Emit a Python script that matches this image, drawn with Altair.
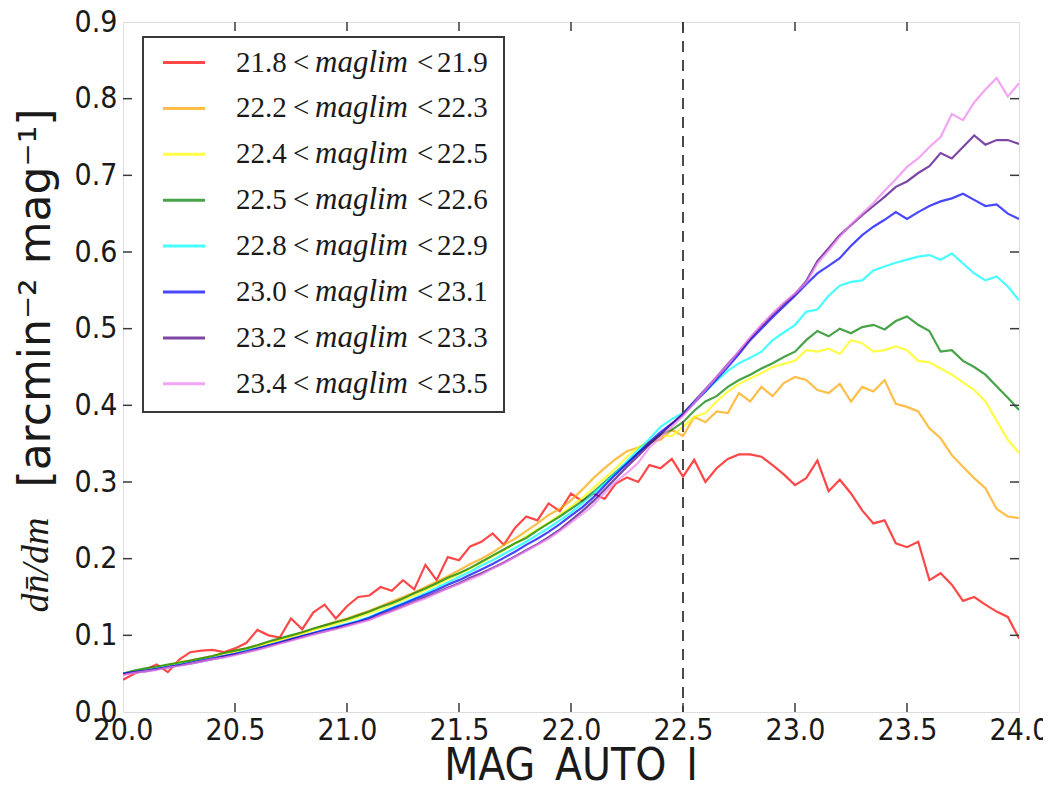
import altair as alt
import pandas as pd

# ---------------- data ----------------
MAG = [round(20.0 + 0.05 * i, 2) for i in range(81)]  # sampling grid 20.00 .. 24.00

LABELS_LO = ["21.8", "22.2", "22.4", "22.5", "22.8", "23.0", "23.2", "23.4"]
LABELS_HI = ["21.9", "22.3", "22.5", "22.6", "22.9", "23.1", "23.3", "23.5"]
COLORS = ["#ff0000", "#ffa500", "#ffff00", "#008000", "#00ffff", "#0000ff", "#4b0082", "#ee82ee"]

RED = [.042, .050, .055, .062, .052, .068, .078, .080, .081, .078,
       .083, .090, .107, .100, .097, .122, .108, .130, .140, .122,
       .138, .150, .152, .163, .158, .172, .160, .192, .172, .202,
       .198, .216, .222, .233, .218, .240, .255, .250, .272, .262,
       .285, .275, .285, .278, .298, .306, .300, .322, .318, .330,
       .307, .329, .300, .318, .330, .336, .336, .333, .322, .310,
       .296, .305, .328, .288, .303, .285, .263, .246, .250, .220,
       .215, .222, .172, .181, .166, .145, .150, .140, .131, .124, .096]

ORANGE = [.050, .053, .055, .058, .061, .065, .067, .070, .073, .077,
          .080, .083, .087, .091, .095, .099, .104, .108, .113, .118,
          .122, .127, .132, .138, .144, .150, .156, .163, .170, .177,
          .185, .193, .200, .208, .218, .226, .236, .246, .257, .265,
          .276, .290, .305, .318, .330, .340, .345, .352, .355, .368,
          .360, .385, .378, .392, .390, .416, .405, .424, .412, .429,
          .437, .433, .420, .416, .428, .405, .424, .418, .433, .402,
          .398, .392, .370, .357, .335, .320, .305, .292, .265, .255, .253]

YELLOW = [.050, .053, .056, .058, .061, .064, .066, .069, .072, .076,
          .079, .082, .086, .090, .094, .098, .102, .107, .111, .115,
          .119, .124, .129, .134, .140, .146, .152, .159, .166, .173,
          .180, .187, .195, .203, .211, .220, .229, .238, .247, .257,
          .268, .279, .292, .305, .318, .333, .345, .352, .360, .360,
          .372, .385, .390, .405, .418, .428, .435, .442, .450, .454,
          .458, .472, .470, .474, .467, .485, .481, .470, .472, .477,
          .472, .458, .456, .448, .440, .430, .420, .405, .380, .355, .338]

GREEN = [.050, .054, .057, .059, .062, .064, .067, .070, .073, .077,
         .080, .083, .087, .092, .096, .100, .104, .109, .113, .117,
         .121, .126, .131, .137, .142, .148, .155, .161, .168, .175,
         .181, .188, .196, .204, .212, .220, .227, .237, .246, .255,
         .265, .275, .287, .300, .313, .325, .338, .350, .362, .368,
         .378, .393, .405, .412, .424, .433, .440, .448, .455, .463,
         .470, .485, .497, .490, .500, .494, .502, .505, .499, .510,
         .516, .505, .497, .470, .472, .458, .450, .440, .425, .410, .394]

CYAN = [.050, .052, .054, .057, .059, .062, .064, .067, .070, .073,
        .076, .080, .083, .087, .091, .095, .099, .103, .107, .111,
        .115, .119, .124, .130, .136, .142, .148, .155, .162, .169,
        .176, .183, .191, .198, .206, .214, .222, .231, .240, .250,
        .260, .272, .285, .298, .312, .327, .342, .356, .372, .382,
        .390, .405, .418, .432, .445, .455, .462, .470, .485, .495,
        .505, .522, .525, .543, .556, .561, .563, .576, .581, .586,
        .590, .594, .596, .590, .598, .585, .572, .563, .568, .555, .537]

BLUE = [.050, .052, .054, .056, .059, .061, .064, .067, .070, .073,
        .076, .079, .083, .087, .091, .095, .099, .103, .107, .110,
        .114, .118, .123, .129, .135, .141, .147, .153, .159, .166,
        .172, .179, .186, .193, .201, .209, .218, .226, .235, .245,
        .256, .267, .280, .295, .310, .324, .338, .352, .365, .376,
        .388, .403, .418, .434, .450, .467, .485, .500, .515, .529,
        .543, .558, .572, .582, .592, .608, .622, .633, .642, .652,
        .643, .652, .660, .666, .670, .676, .668, .660, .662, .650, .643]

PURPLE = [.049, .052, .053, .056, .058, .061, .063, .066, .069, .072,
          .075, .078, .082, .086, .090, .094, .098, .102, .105, .109,
          .113, .117, .121, .127, .132, .138, .144, .150, .156, .162,
          .168, .175, .181, .188, .195, .203, .211, .219, .228, .238,
          .250, .262, .275, .290, .305, .320, .334, .349, .362, .376,
          .389, .405, .421, .437, .454, .470, .487, .503, .518, .532,
          .545, .562, .588, .605, .622, .635, .648, .660, .672, .685,
          .692, .703, .712, .729, .722, .737, .752, .740, .746, .746, .741]

PINK = [.048, .051, .053, .055, .058, .060, .063, .066, .069, .071,
        .074, .078, .081, .085, .089, .093, .097, .101, .105, .108,
        .112, .116, .120, .126, .131, .137, .143, .148, .155, .161,
        .167, .173, .179, .187, .194, .202, .210, .218, .226, .236,
        .247, .258, .270, .286, .300, .312, .325, .345, .358, .372,
        .386, .403, .420, .437, .453, .471, .489, .505, .520, .534,
        .546, .560, .585, .602, .620, .636, .650, .664, .680, .695,
        .711, .722, .737, .750, .780, .772, .795, .812, .827, .803, .820]

SERIES = [RED, ORANGE, YELLOW, GREEN, CYAN, BLUE, PURPLE, PINK]

X_TICKS = [20.0, 20.5, 21.0, 21.5, 22.0, 22.5, 23.0, 23.5, 24.0]
Y_TICKS = [0.0, 0.1, 0.2, 0.3, 0.4, 0.5, 0.6, 0.7, 0.8, 0.9]
CUT = [22.5]

# ---------------- tables ----------------
keys = [f"{lo}<{hi}" for lo, hi in zip(LABELS_LO, LABELS_HI)]
rows = []
for k, vals in zip(keys, SERIES):
    for m, v in zip(MAG, vals):
        rows.append({"series": k, "mag": m, "val": v})
df = pd.DataFrame(rows)

W, H = 896, 690
TICK_LEN = 9
FRAME = "#3a3a3a"
TXT = "#1a1a1a"

xscale = alt.Scale(domain=[20, 24], nice=False, zero=False)
yscale = alt.Scale(domain=[0, 0.9], nice=False, zero=False)

axis_common = dict(ticks=False, tickSize=0, domain=False, grid=False,
                   labelFont="DejaVu Sans Condensed", labelFontSize=30,
                   labelColor=TXT, labelFlush=False, labelOverlap=False,
                   format=".1f", title=None)

lines = alt.Chart(df).mark_line(strokeWidth=2.2, opacity=0.72, clip=True).encode(
    x=alt.X("mag:Q", scale=xscale,
            axis=alt.Axis(values=X_TICKS, labelPadding=3, **axis_common)),
    y=alt.Y("val:Q", scale=yscale,
            axis=alt.Axis(values=Y_TICKS, labelPadding=6, **axis_common)),
    color=alt.Color("series:N", scale=alt.Scale(domain=keys, range=COLORS), legend=None),
)

cut = alt.Chart(pd.DataFrame({"x": CUT})).mark_rule(
    color="#4a4a4a", strokeWidth=2, strokeDash=[11, 8]).encode(x=alt.X("x:Q", scale=xscale))

xt = pd.DataFrame({"t": X_TICKS[1:-1]})
yt = pd.DataFrame({"t": Y_TICKS[1:-1]})
tick_style = dict(color=FRAME, strokeWidth=1.5)
ticks_bottom = alt.Chart(xt).mark_rule(**tick_style).encode(
    x=alt.X("t:Q", scale=xscale), y=alt.value(H), y2=alt.value(H - TICK_LEN))
ticks_top = alt.Chart(xt).mark_rule(**tick_style).encode(
    x=alt.X("t:Q", scale=xscale), y=alt.value(0), y2=alt.value(TICK_LEN))
ticks_left = alt.Chart(yt).mark_rule(**tick_style).encode(
    y=alt.Y("t:Q", scale=yscale), x=alt.value(0), x2=alt.value(TICK_LEN))
ticks_right = alt.Chart(yt).mark_rule(**tick_style).encode(
    y=alt.Y("t:Q", scale=yscale), x=alt.value(W), x2=alt.value(W - TICK_LEN))

xtitle = alt.Chart(pd.DataFrame({"t": ["MAG_AUTO_I"]})).mark_text(
    font="DejaVu Sans Condensed", fontSize=44, color=TXT, align="center",
    baseline="alphabetic").encode(x=alt.value(W / 2), y=alt.value(H + 68), text="t:N")

ytitle_a = alt.Chart(pd.DataFrame({"t": ["[arcmin\u207b\u00b2 mag\u207b\u00b9]"]})).mark_text(
    font="DejaVu Sans", fontSize=44, color=TXT, angle=270, align="center",
    baseline="middle").encode(x=alt.value(-86), y=alt.value(276), text="t:N")
ytitle_b = alt.Chart(pd.DataFrame({"t": ["dn\u0304/dm"]})).mark_text(
    font="Liberation Serif", fontStyle="italic", fontSize=38, color=TXT, angle=270,
    align="center", baseline="middle").encode(x=alt.value(-86), y=alt.value(543), text="t:N")

main = alt.layer(lines, cut, ticks_bottom, ticks_top, ticks_left, ticks_right,
                 xtitle, ytitle_a, ytitle_b)

# ---------------- legend (hand-built, to get the italic "maglim") ----------------
leg = pd.DataFrame({
    "lo": LABELS_LO, "hi": LABELS_HI, "color": COLORS,
    "ly": [40.5 + 45.9 * i for i in range(len(LABELS_LO))],
    "lt": ["<"] * len(LABELS_LO), "mid": ["maglim"] * len(LABELS_LO),
})
ly = alt.Y("ly:Q", scale=None, axis=None)
box = alt.Chart(pd.DataFrame({"a": [0]})).mark_rect(
    fill="white", stroke=FRAME, strokeWidth=2).encode(
    x=alt.value(20), x2=alt.value(381), y=alt.value(15), y2=alt.value(390))
sym = alt.Chart(leg).mark_rule(strokeWidth=3, opacity=0.72).encode(
    x=alt.value(40), x2=alt.value(82), y=ly,
    color=alt.Color("color:N", scale=None, legend=None))
serif = dict(font="Liberation Serif", color=TXT, align="left", baseline="middle")
t_lo = alt.Chart(leg).mark_text(fontSize=29, **serif).encode(x=alt.value(113), y=ly, text="lo:N")
t_lt1 = alt.Chart(leg).mark_text(fontSize=29, **serif).encode(x=alt.value(170), y=ly, text="lt:N")
t_mid = alt.Chart(leg).mark_text(fontStyle="italic", fontSize=31, **serif).encode(
    x=alt.value(192), y=ly, text="mid:N")
t_lt2 = alt.Chart(leg).mark_text(fontSize=29, **serif).encode(x=alt.value(294), y=ly, text="lt:N")
t_hi = alt.Chart(leg).mark_text(fontSize=29, **serif).encode(x=alt.value(314), y=ly, text="hi:N")
legend = alt.layer(box, sym, t_lo, t_lt1, t_mid, t_lt2, t_hi)

chart = alt.layer(main, legend).resolve_scale(
    x="independent", y="independent", color="independent"
).properties(
    width=W, height=H, autosize="none",
    padding={"left": 115, "top": 14, "right": 24, "bottom": 70},
).configure_view(stroke=FRAME, strokeWidth=2.5).configure(background="white")

chart.save("out.html", embed_options={"renderer": "svg", "actions": False})
